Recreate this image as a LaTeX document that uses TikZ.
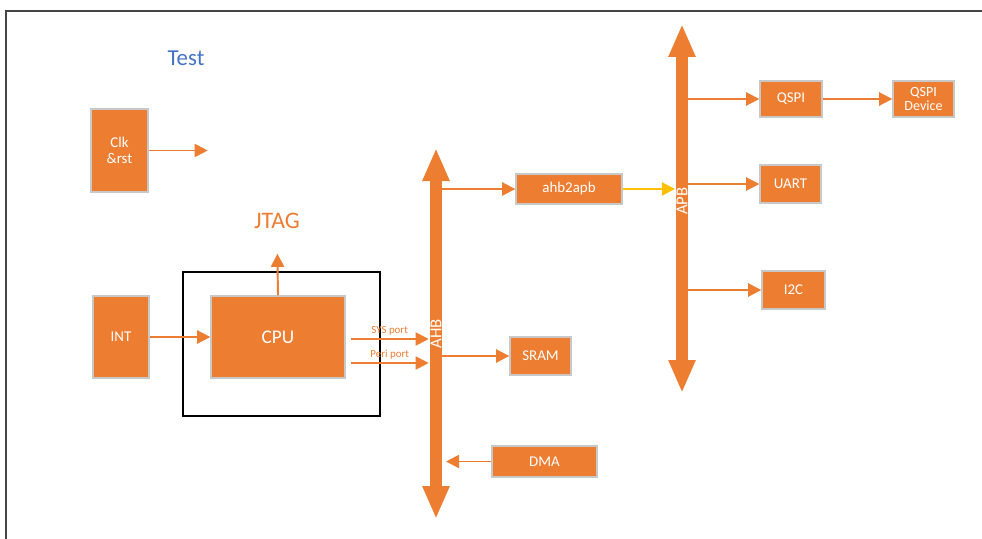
\documentclass[tikz,border=0pt]{standalone}
\usepackage{fontspec}
\setmainfont{Carlito}
\usetikzlibrary{arrows.meta, positioning}
\usepackage{xcolor}

\definecolor{accent}{HTML}{ED7D31}
\definecolor{boxline}{HTML}{C8C8C8}
\definecolor{titleblue}{HTML}{4472C4}
\definecolor{bridge}{HTML}{FFC000}
\definecolor{pagerule}{HTML}{454545}

\begin{document}
\begin{tikzpicture}[
x=0.02cm, y=-0.02cm,
block/.style={draw=boxline,
line width=0.8pt,
fill=accent,
text=white,
inner sep=0pt,
font=\fontsize{8.5}{9.5}\selectfont,
align=center},
arrow/.style={-{Triangle[width=7.5pt,length=7.5pt]}, draw=accent, line width=1.1pt},
bus/.style={{Triangle[width=0.5cm,length=0.66cm]}-{Triangle[width=0.5cm,length=0.66cm]},
draw=accent, line width=0.25cm},
buslabel/.style={rotate=90, text=white, font=\fontsize{9.5}{10}\selectfont},
portlabel/.style={text=accent, font=\fontsize{6.2}{7}\selectfont, inner sep=1.5pt}
]

\useasboundingbox (0,0) rectangle (982,538);
\clip (0,0) rectangle (982,538);

% page frame
\draw[pagerule, line width=1.4pt] (6,560) -- (6,11) -- (1000,11);

\node[text=titleblue, font=\fontsize{13}{15}\selectfont] (title) at (186,58) {Test};

% clock, interrupts and the cpu core
\node[block, minimum width=1.14cm, minimum height=1.66cm] (clkrst) at (119.5,150.5) {Clk\\\&rst};
\node[block, minimum width=1.12cm, minimum height=1.64cm] (int) at (121,337) {INT};
\node[block, minimum width=2.68cm, minimum height=1.64cm, font=\fontsize{11}{12}\selectfont] (cpu) at (278,337) {CPU};
\node[draw, line width=1pt, minimum width=3.94cm, minimum height=2.88cm] (core) at (281.5,344) {};
\node[text=accent, inner sep=0pt, font=\fontsize{13.5}{15}\selectfont] (jtag) at (277,221) {JTAG};

% AHB side
\node[block, minimum width=2.12cm, minimum height=0.6cm] (ahb2apb) at (569,189) {ahb2apb};
\node[block, minimum width=1.22cm, minimum height=0.76cm] (sram) at (540.5,356) {SRAM};
\node[block, minimum width=2.1cm, minimum height=0.62cm] (dma) at (544.5,461.5) {DMA};

% APB side
\node[block, minimum width=1.24cm, minimum height=0.72cm] (qspi) at (791,99) {QSPI};
\node[block, minimum width=1.22cm, minimum height=0.72cm, font=\fontsize{8}{8.5}\selectfont] (qspidev) at (923.5,99) {QSPI\\Device};
\node[block, minimum width=1.22cm, minimum height=0.76cm] (uart) at (790.5,184) {UART};
\node[block, minimum width=1.26cm, minimum height=0.76cm] (i2c) at (793.5,290) {I2C};

% bus ends
\coordinate (ahbtop) at (436,148);
\coordinate (ahbbot) at (436,519);
\coordinate (ahbedge) at (446,0);
\coordinate (apbtop) at (682,24);
\coordinate (apbbot) at (682,393);
\coordinate (apbedge) at (675,0);

\draw[arrow] (clkrst.east) -- ++(59,0);
\draw[arrow] (int.east) -- (cpu.west);
\draw[arrow, shorten >=14pt] (cpu.north) -- (jtag.south);

\draw[arrow] ([xshift=0.1cm, yshift=-0.04cm]cpu.east) -- ++(78,0)
  node[portlabel, midway, above] {SYS port};
\draw[arrow] ([xshift=0.1cm, yshift=-0.52cm]cpu.east) -- ++(78,0)
  node[portlabel, midway, above] {Peri port};

\draw[arrow] (ahbtop |- ahb2apb.west) -- (ahb2apb.west);
\draw[arrow] (ahbtop |- sram.west) -- (sram.west);
\draw[arrow] (dma.west) -- (ahbedge |- dma.west);
\draw[arrow, draw=bridge] (ahb2apb.east) -- (apbedge |- ahb2apb.east);

\draw[arrow] (apbtop |- qspi.west) -- (qspi.west);
\draw[arrow] (qspi.east) -- (qspidev.west);
\draw[arrow] (apbtop |- uart.west) -- (uart.west);
\draw[arrow] (apbtop |- i2c.west) -- (i2c.west);

% the two buses
\draw[bus] (ahbbot) -- (ahbtop) node[buslabel, pos=0.5] {AHB};
\draw[bus] (apbbot) -- (apbtop) node[buslabel, pos=0.52] {APB};

\end{tikzpicture}
\end{document}
